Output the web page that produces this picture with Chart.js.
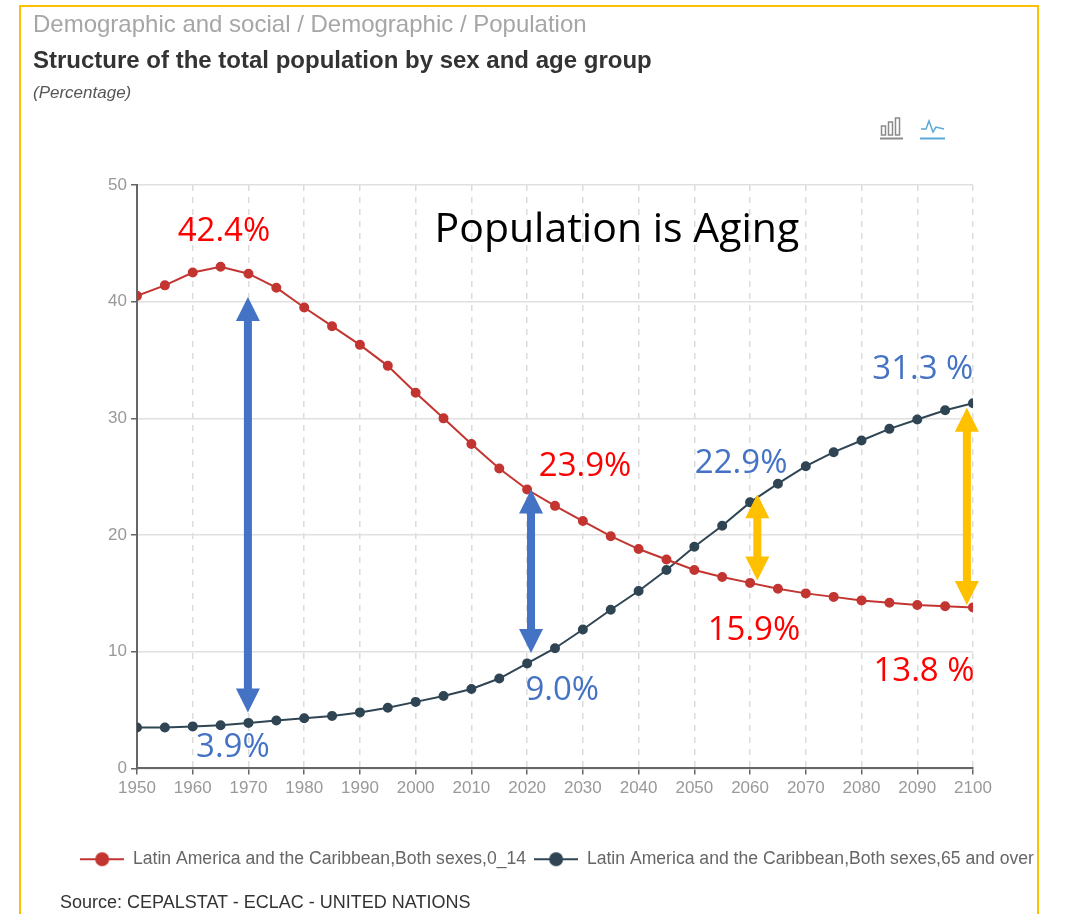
<!DOCTYPE html>
<html>
<head>
<meta charset="utf-8">
<script src="https://cdn.jsdelivr.net/npm/chart.js@4.4.1/dist/chart.umd.min.js"></script>
<style>
  body { margin: 0; background: #fff; font-family: "Liberation Sans", Arial, sans-serif; }
  #wrap { position: relative; width: 1071px; height: 914px; overflow: hidden; }
  #frame { position: absolute; left: 19px; top: 5px; width: 1020px; height: 940px; border: 2px solid #FFC000; box-sizing: border-box; }
  canvas { position: absolute; left: 0; top: 0; }
  .txt { position: absolute; white-space: nowrap; }
  #crumb { left: 33px; top: 10px; font-size: 24px; color: #a6a6a6; }
  #title { left: 33px; top: 46px; font-size: 24px; font-weight: bold; color: #333; }
  #unit { left: 33px; top: 83px; font-size: 17px; font-style: italic; color: #555; }
  #source { left: 60px; top: 892px; font-size: 18px; color: #333; }
  #icons { position: absolute; left: 878px; top: 115px; }
</style>
</head>
<body>
<div id="wrap">
  <div id="frame"></div>
  <canvas id="grafico" width="1071" height="914"></canvas>
  <div class="txt" id="crumb">Demographic and social / Demographic / Population</div>
  <div class="txt" id="title">Structure of the total population by sex and age group</div>
  <div class="txt" id="unit">(Percentage)</div>
  <div class="txt" id="source">Source: CEPALSTAT - ECLAC - UNITED NATIONS</div>
  <svg id="icons" width="70" height="30">
    <g fill="none" stroke="#8a8a8a" stroke-width="1.5">
      <rect x="3.5" y="11" width="4" height="9"/>
      <rect x="10.5" y="7" width="4" height="13"/>
      <rect x="17.5" y="3" width="4" height="17"/>
    </g>
    <line x1="2" y1="23.5" x2="25" y2="23.5" stroke="#8a8a8a" stroke-width="2"/>
    <polyline points="43,14 48,14 51,6 55,17 58,12 66,14" fill="none" stroke="#5aa9d6" stroke-width="1.5"/>
    <line x1="42" y1="23.5" x2="67" y2="23.5" stroke="#5aa9d6" stroke-width="2"/>
  </svg>
</div>
<script>
const anos = [1950, 1955, 1960, 1965, 1970, 1975, 1980, 1985, 1990, 1995, 2000, 2005, 2010, 2015, 2020,
  2025, 2030, 2035, 2040, 2045, 2050, 2055, 2060, 2065, 2070, 2075, 2080, 2085, 2090, 2095, 2100];
const jovens = [40.5, 41.4, 42.5, 43.0, 42.4, 41.2, 39.5, 37.9, 36.3, 34.5, 32.2, 30.0, 27.8, 25.7, 23.9,
  22.5, 21.2, 19.9, 18.8, 17.9, 17.0, 16.4, 15.9, 15.4, 15.0, 14.7, 14.4, 14.2, 14.0, 13.9, 13.8];
const idosos = [3.5, 3.5, 3.6, 3.7, 3.9, 4.1, 4.3, 4.5, 4.8, 5.2, 5.7, 6.2, 6.8, 7.7, 9.0,
  10.3, 11.9, 13.6, 15.2, 17.0, 19.0, 20.8, 22.8, 24.4, 25.9, 27.1, 28.1, 29.1, 29.9, 30.7, 31.3];
const nomes = ['Latin America and the Caribbean,Both sexes,0_14', 'Latin America and the Caribbean,Both sexes,65 and over'];
const cores = ['#c23531', '#2f4554'];
const yTicks = [0, 10, 20, 30, 40, 50];

// textos e setas desenhados em coordenadas de dados
const textos = [
  { t: 'Population is Aging', x: 2036.1, y: 46.1, cor: '#000', tam: 41 },
  { t: '42.4%', x: 1965.6, y: 46.0, cor: '#ff0000', tam: 33 },
  { t: '3.9%', x: 1967.2, y: 1.8, cor: '#4472c4', tam: 33 },
  { t: '23.9%', x: 2030.4, y: 25.9, cor: '#ff0000', tam: 33 },
  { t: '9.0%', x: 2026.3, y: 6.7, cor: '#4472c4', tam: 33 },
  { t: '22.9%', x: 2058.4, y: 26.1, cor: '#4472c4', tam: 33 },
  { t: '15.9%', x: 2060.7, y: 11.8, cor: '#ff0000', tam: 33 },
  { t: '31.3 %', x: 2091.0, y: 34.2, cor: '#4472c4', tam: 33 },
  { t: '13.8 %', x: 2091.2, y: 8.3, cor: '#ff0000', tam: 33 }
];
const setas = [
  { x: 1969.9, de: 40.4, ate: 4.8, cor: '#4472c4' },
  { x: 2020.7, de: 23.9, ate: 9.9, cor: '#4472c4' },
  { x: 2061.3, de: 23.5, ate: 16.1, cor: '#ffc000' },
  { x: 2098.9, de: 30.9, ate: 14.0, cor: '#ffc000' }
];

function iconeLegenda(cor) {
  const c = document.createElement('canvas');
  c.width = 44; c.height = 16;
  const g = c.getContext('2d');
  g.strokeStyle = cor; g.lineWidth = 2;
  g.beginPath(); g.moveTo(0, 8); g.lineTo(44, 8); g.stroke();
  g.fillStyle = cor;
  g.beginPath(); g.arc(22, 8, 7, 0, Math.PI * 2); g.fill();
  return c;
}

function desenhaSeta(ctx, x, y1, y2, cor) {
  const dir = y2 > y1 ? 1 : -1;
  const head = 24, half = 12, shaft = 4;
  ctx.fillStyle = cor;
  ctx.beginPath();
  ctx.moveTo(x, y1);
  ctx.lineTo(x + half, y1 + dir * head);
  ctx.lineTo(x + shaft, y1 + dir * head);
  ctx.lineTo(x + shaft, y2 - dir * head);
  ctx.lineTo(x + half, y2 - dir * head);
  ctx.lineTo(x, y2);
  ctx.lineTo(x - half, y2 - dir * head);
  ctx.lineTo(x - shaft, y2 - dir * head);
  ctx.lineTo(x - shaft, y1 + dir * head);
  ctx.lineTo(x - half, y1 + dir * head);
  ctx.closePath();
  ctx.fill();
}

const anotacoes = {
  id: 'anotacoes',
  afterDatasetsDraw(chart) {
    const { ctx, scales: { x, y } } = chart;
    ctx.save();
    setas.forEach(s => desenhaSeta(ctx, x.getPixelForValue(s.x), y.getPixelForValue(s.de), y.getPixelForValue(s.ate), s.cor));
    ctx.textAlign = 'center';
    ctx.textBaseline = 'middle';
    textos.forEach(t => {
      ctx.font = t.tam + 'px "Open Sans", "Noto Sans", sans-serif';
      ctx.fillStyle = t.cor;
      ctx.fillText(t.t, x.getPixelForValue(t.x), y.getPixelForValue(t.y));
    });
    ctx.restore();
  }
};

const series = [jovens, idosos];
const ctx = document.getElementById('grafico').getContext('2d');
new Chart(ctx, {
  type: 'line',
  data: {
    datasets: series.map((s, i) => ({
      label: nomes[i],
      data: anos.map((a, k) => ({ x: a, y: s[k] })),
      borderColor: cores[i],
      backgroundColor: cores[i],
      borderWidth: 2,
      pointRadius: 4,
      pointHoverRadius: 4,
      tension: 0
    }))
  },
  options: {
    responsive: false,
    animation: false,
    layout: { padding: { left: 43, top: 185, right: 0, bottom: 36 } },
    plugins: {
      tooltip: { enabled: false },
      legend: {
        position: 'bottom',
        labels: {
          usePointStyle: true,
          pointStyleWidth: 44,
          padding: 8,
          color: '#666',
          font: { family: '"Liberation Sans", Arial', size: 17.6 },
          generateLabels: chart => chart.data.datasets.map((d, i) => ({
            text: d.label,
            pointStyle: iconeLegenda(cores[i]),
            fontColor: '#666',
            datasetIndex: i
          }))
        }
      }
    },
    scales: {
      x: {
        type: 'linear',
        min: 1950,
        max: 2100,
        afterFit: s => { s.height = 74; },
        ticks: { stepSize: 10, color: '#999', font: { family: '"Liberation Sans", Arial', size: 17 }, callback: v => String(v), maxRotation: 0, padding: 4 },
        grid: { color: '#dcdcdc', lineWidth: 1.5, tickColor: '#666', tickLength: 6, tickBorderDash: [] },
        border: { color: '#666', width: 2, dash: [6, 6] }
      },
      y: {
        min: 0,
        max: 50,
        afterFit: s => { s.width = 94; },
        afterBuildTicks: s => { s.ticks = yTicks.map(v => ({ value: v })); },
        ticks: { color: '#999', font: { family: '"Liberation Sans", Arial', size: 17 }, padding: 4 },
        grid: { color: '#e0e0e0', lineWidth: 1.5, tickColor: '#666', tickLength: 6 },
        border: { color: '#666', width: 2 }
      },
      direita: {
        position: 'right',
        display: true,
        afterFit: s => { s.width = 98; },
        ticks: { display: false },
        grid: { display: false, drawTicks: false },
        border: { display: false }
      }
    }
  },
  plugins: [anotacoes]
});
</script>
</body>
</html>
